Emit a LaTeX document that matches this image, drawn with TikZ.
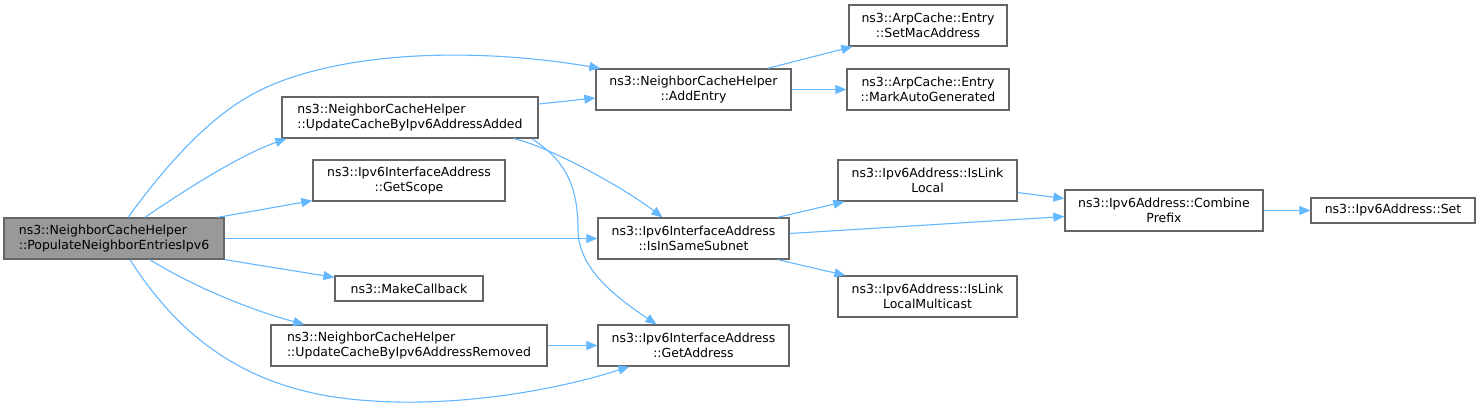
\documentclass[tikz,border=0pt]{standalone}
\usepackage{fontspec}
\setmainfont{DejaVu Sans}
\usetikzlibrary{arrows.meta}
\definecolor{edgeblue}{HTML}{63B8FF}
\definecolor{boxgray}{HTML}{666666}
\definecolor{mainfill}{HTML}{999999}
\begin{document}
\begin{tikzpicture}[x=1bp,y=-1bp,
  box/.style={draw=boxgray, line width=1.3bp, fill=white, inner sep=0pt,
    minimum height=41bp, font=\fontsize{12.5bp}{14.5bp}\selectfont, align=center},
  onebox/.style={box, minimum height=25bp},
  mainbox/.style={box, fill=mainfill},
  call/.style={draw=edgeblue, line width=1.1bp, -{Triangle[length=11bp,width=9bp]}, fill=none}
]
\useasboundingbox (0,0) rectangle (1480,407);
\fill[white] (0,0) rectangle (1480,407);

% nodes
\node[mainbox, minimum width=220bp, align=left] (main) at (114,238.5) {ns3::NeighborCacheHelper\\::PopulateNeighborEntriesIpv6};
\node[box, minimum width=256bp, align=left] (UA) at (410,117.5) {ns3::NeighborCacheHelper\\::UpdateCacheByIpv6AddressAdded};
\node[box, minimum width=192bp] (GS) at (409,180.5) {ns3::Ipv6InterfaceAddress\\::GetScope};
\node[onebox, minimum width=148bp] (MC) at (409,288.5) {ns3::MakeCallback};
\node[box, minimum width=276bp, align=left] (UR) at (409,345.5) {ns3::NeighborCacheHelper\\::UpdateCacheByIpv6AddressRemoved};
\node[box, minimum width=195bp] (AE) at (693.5,89.5) {ns3::NeighborCacheHelper\\::AddEntry};
\node[box, minimum width=191bp] (ISS) at (693.5,238.5) {ns3::Ipv6InterfaceAddress\\::IsInSameSubnet};
\node[box, minimum width=191bp] (GA) at (693.5,345.5) {ns3::Ipv6InterfaceAddress\\::GetAddress};
\node[box, minimum width=158bp] (SMA) at (928,25.5) {ns3::ArpCache::Entry\\::SetMacAddress};
\node[box, minimum width=162bp] (MAG) at (928,89.5) {ns3::ArpCache::Entry\\::MarkAutoGenerated};
\node[box, minimum width=179bp] (ILL) at (927.5,180.5) {ns3::Ipv6Address::IsLink\\Local};
\node[box, minimum width=179bp] (ILLM) at (927.5,296.5) {ns3::Ipv6Address::IsLink\\LocalMulticast};
\node[box, minimum width=198bp] (CP) at (1164,210.5) {ns3::Ipv6Address::Combine\\Prefix};
\node[onebox, minimum width=164bp] (SET) at (1393,210.5) {ns3::Ipv6Address::Set};

% connectors
\draw[call] ([xshift=14bp]main.north) .. controls (170,160) and (215,110) .. (267,87)
   .. controls (350,50) and (480,48) .. ([xshift=5bp]AE.north west);
\draw[call] ([xshift=31bp]main.north) .. controls (185,190) and (240,155) .. ([xshift=5bp]UA.south west);
\draw[call] ([xshift=-7bp]main.north east) -- ([yshift=1bp]GS.south west);
\draw[call] (main.east) -- (ISS.west);
\draw[call] (main.south east) -- ([yshift=-2bp]MC.north west);
\draw[call] ([xshift=36bp]main.south) .. controls (190,285) and (250,310) .. ([xshift=34bp]UR.north west);
\draw[call] ([xshift=16bp]main.south) .. controls (175,330) and (240,390) .. (360,400)
   .. controls (450,408) and (550,392) .. ([xshift=32bp]GA.south west);
\draw[call] ([yshift=13.5bp]UA.east) -- ([yshift=-8.5bp]AE.west);
\draw[call] ([xshift=-25bp]UA.south east) .. controls (545,145) and (620,185) .. ([xshift=-31bp]ISS.north);
\draw[call] ([xshift=-7bp]UA.south east) .. controls (565,160) and (578,185) .. (578,230)
   .. controls (578,270) and (620,300) .. ([xshift=-37bp]GA.north);
\draw[call] (UR.east) -- (GA.west);
\draw[call] ([xshift=-24bp]AE.north east) -- ([xshift=4bp]SMA.south west);
\draw[call] (AE.east) -- (MAG.west);
\draw[call] ([xshift=-12bp]ISS.north east) -- ([xshift=7bp]ILL.south west);
\draw[call] ([yshift=5bp]ISS.east) -- ([yshift=-6bp]CP.west);
\draw[call] ([xshift=-12bp]ISS.south east) -- ([xshift=8bp]ILLM.north west);
\draw[call] ([yshift=-12bp]ILL.east) -- ([yshift=12bp]CP.west);
\draw[call] (CP.east) -- (SET.west);
\end{tikzpicture}
\end{document}
